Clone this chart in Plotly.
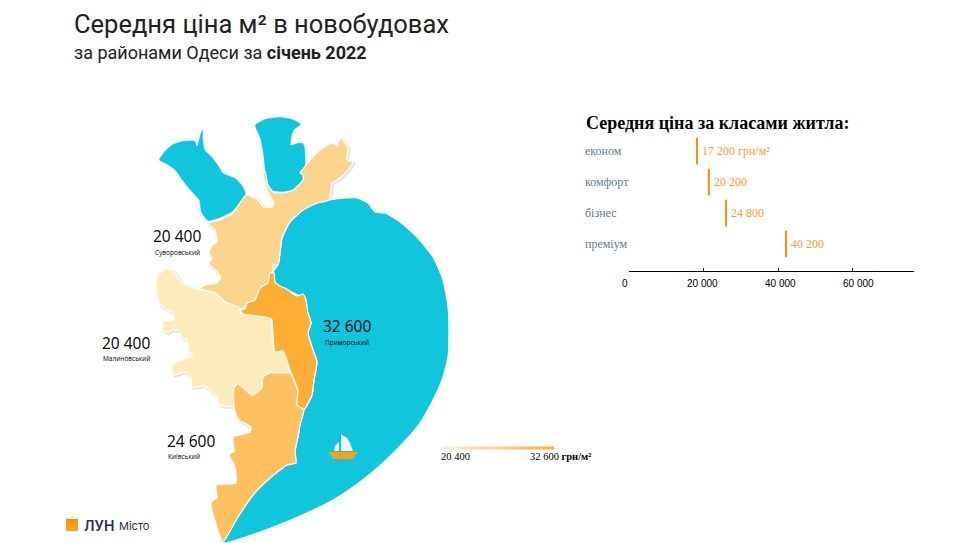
import plotly.graph_objects as go

sea_outline = [(329, 200), (347, 198), (357, 198), (368, 203), (375, 212), (385, 213), (400, 222), (417, 237),
               (433, 257), (443, 280), (448, 307), (449, 330), (448, 357), (442, 380), (433, 400), (420, 423),
               (403, 443), (383, 463), (360, 482), (333, 500), (300, 516), (260, 532), (223, 543), (238, 517),
               (253, 495), (270, 478), (287, 465), (296, 463),
               (295, 452), (298, 437), (300, 425), (304, 410), (306, 407), (312, 395), (314, 380), (317, 362),
               (313, 350), (308, 333), (311, 323), (307, 310), (305, 298), (298, 295), (288, 290), (275, 283),
               (273, 272), (278, 265), (280, 253), (282, 238), (290, 222), (303, 210), (317, 203), (329, 200)]
liman_west = [(159, 160), (165, 151), (173, 144), (183, 141), (195, 141), (197, 146), (200, 135), (203, 129),
              (203, 140), (205, 150), (212, 157), (218, 165), (223, 173), (235, 178), (242, 185), (246, 194),
              (240, 203), (232, 212), (220, 218), (208, 221), (201, 212), (199, 200), (190, 190), (182, 180),
              (175, 170), (168, 165), (159, 160)]
liman_east = [(255, 125), (265, 119), (280, 117), (292, 119), (301, 124), (294, 130), (292, 135), (291, 145),
              (297, 143), (303, 143), (305, 148), (305, 178), (300, 186), (292, 191), (282, 192), (273, 191),
              (268, 185), (265, 172), (263, 153), (260, 138), (255, 125)]
suvorovskyi = [(208, 223), (220, 220), (233, 213), (246, 195), (257, 199), (264, 207), (272, 207), (274, 203),
               (268, 192), (263, 173), (265, 172), (268, 185), (273, 192), (282, 193), (293, 190), (303, 180),
               (303, 175), (300, 173), (303, 169), (310, 160), (320, 150), (332, 143), (337, 146), (340, 138),
               (348, 147), (347, 160), (353, 162), (348, 170), (340, 178), (332, 183), (329, 200), (317, 203),
               (303, 210), (290, 222), (282, 238), (280, 253), (278, 265), (273, 264), (273, 272), (270, 273),
               (268, 283), (260, 288), (255, 300), (247, 303), (241, 310), (225, 302), (215, 293), (200, 289),
               (205, 285), (217, 283), (221, 277), (213, 268), (209, 264), (212, 258), (209, 253), (212, 245),
               (217, 242), (215, 230), (208, 223)]
malynivskyi = [(156, 283), (158, 275), (165, 269), (172, 270), (182, 283), (197, 289), (215, 293), (225, 302),
               (240, 308), (240, 313), (250, 315), (270, 318), (272, 337), (274, 350), (283, 351), (290, 373),
               (280, 373), (270, 373), (263, 377), (262, 388), (252, 395), (238, 384), (234, 388), (233, 406),
               (220, 405), (217, 397), (205, 386), (192, 387), (191, 378), (185, 372), (174, 375), (172, 367),
               (177, 362), (187, 358), (193, 354), (189, 353), (187, 340), (181, 337), (180, 331), (172, 330),
               (168, 333), (163, 330), (163, 321), (174, 320), (173, 313), (160, 305), (156, 283)]
prymorskyi = [(270, 273), (274, 273), (275, 282), (282, 287), (285, 288), (288, 290), (297, 296), (303, 294),
              (306, 300), (308, 313), (311, 323), (308, 333), (313, 350), (317, 362), (314, 380), (312, 395),
              (306, 407), (304, 409), (297, 405), (298, 390), (290, 370), (283, 351), (275, 352), (273, 335),
              (272, 320), (270, 318), (250, 315), (243, 314), (241, 310), (245, 309), (247, 303), (255, 300),
              (260, 288), (268, 283), (270, 273)]
kyivskyi = [(290, 373), (298, 392), (297, 405), (304, 409), (300, 425), (298, 437), (295, 452), (296, 463),
            (287, 465), (270, 478), (253, 495), (238, 517), (223, 542), (217, 527), (211, 502), (217, 498),
            (216, 485), (236, 483), (235, 467), (229, 454), (234, 452), (233, 437), (250, 432), (251, 427),
            (238, 419), (234, 407), (234, 388), (238, 384), (252, 395), (262, 388), (263, 377),
            (270, 373), (280, 373), (290, 373)]
boat_hull = [(329, 452), (358, 452), (353, 459), (333, 459), (329, 452)]
boat_sail_big = [(341, 434), (347, 438), (350, 443), (353, 451), (341, 451), (341, 434)]
boat_sail_small = [(339, 442), (335, 446), (334, 451), (339, 451), (339, 442)]
logo_square = [(66, 519), (78, 519), (78, 531), (66, 531), (66, 519)]

district_names = ["Суворовський", "Малиновський", "Приморський", "Київський"]
district_prices = ["20 400", "20 400", "32 600", "24 600"]
legend_range = [20400, 32600]

class_names = ["економ", "комфорт", "бізнес", "преміум"]
class_labels = ["17 200 грн/м²", "20 200", "24 800", "40 200"]
class_marks = [18250, 21450, 26050, 42150]  # where the marks sit on the axis
axis_ticks = [0, 20000, 40000, 60000]
axis_tick_labels = ["0", "20 000", "40 000", "60 000"]

SERIF = "Liberation Serif"
MAP_FONT = "Open Sans"


def xs(points):
    return [p[0] for p in points]


def ys(points):
    return [p[1] for p in points]


def area(points, color, line_color="white", line_width=1.2, smoothing=0.5):
    return go.Scatter(x=xs(points), y=ys(points), mode="lines", fill="toself", fillcolor=color,
                      line=dict(color=line_color, width=line_width, shape="spline", smoothing=smoothing),
                      hoverinfo="skip")


def outline(points):
    return go.Scatter(x=[p + 1 for p in xs(points)], y=[p + 1 for p in ys(points)], mode="lines",
                      line=dict(color="#e4e4e4", width=3, shape="spline", smoothing=0.5), hoverinfo="skip")


fig = go.Figure()

for land in [suvorovskyi, malynivskyi, kyivskyi, prymorskyi]:
    fig.add_trace(outline(land))

fig.add_trace(area(sea_outline, "#10c6dd"))
fig.add_trace(area(liman_west, "#10c6dd", line_width=0.5))
fig.add_trace(area(liman_east, "#10c6dd", line_width=0.5))
fig.add_trace(area(suvorovskyi, "#fdd48b"))
fig.add_trace(area(malynivskyi, "#feebbb"))
fig.add_trace(area(kyivskyi, "#ffc160"))
fig.add_trace(area(prymorskyi, "#ffae33"))

# boat
for part, color in [(boat_sail_big, "#f2f2f2"), (boat_sail_small, "#f2f2f2"), (boat_hull, "#ff9d14")]:
    fig.add_trace(go.Scatter(x=xs(part), y=ys(part), mode="lines", fill="toself", fillcolor=color,
                             line=dict(width=0), hoverinfo="skip"))

# logo square
fig.add_trace(go.Scatter(x=xs(logo_square), y=ys(logo_square), mode="lines", fill="toself", line=dict(width=0),
                         fillgradient=dict(type="vertical", colorscale=[[0, "#ffa726"], [1, "#ff9100"]]),
                         hoverinfo="skip"))

# price legend, only the colorbar of this trace shows
fig.add_trace(go.Scatter(x=[None, None], y=[None, None], mode="markers",
                         marker=dict(color=legend_range, cmin=legend_range[0], cmax=legend_range[1],
                                     colorscale=[[0, "#f8f1e6"], [1, "#ffae33"]], showscale=True,
                                     colorbar=dict(orientation="h", x=497.5 / 962, xanchor="center",
                                                   y=1 - 448.5 / 543, yanchor="middle", thickness=3,
                                                   thicknessmode="pixels", len=113, lenmode="pixels",
                                                   outlinewidth=0, borderwidth=0, xpad=0, ypad=0, ticks="",
                                                   showticklabels=False)),
                         hoverinfo="skip"))

# class prices
fig.add_trace(go.Scatter(x=class_marks, y=class_names, xaxis="x2", yaxis="y2", mode="markers",
                         marker=dict(symbol="line-ns", size=19, line=dict(color="#ff8c0a", width=2)),
                         hoverinfo="skip"))


def note(x, y, text, size, color="black", family=MAP_FONT, anchor="center", weight=None):
    return dict(x=x, y=y, xref="x", yref="y", text=text, showarrow=False, xanchor=anchor, yanchor="middle",
                font=dict(family=family, size=size, color=color, weight=weight))


annotations = [
    note(72, 24, "Середня ціна м² в новобудовах", 25.5, "#212121", "Roboto", "left"),
    note(72, 52, "за районами Одеси за <b>січень 2022</b>", 18, "#212121", "Roboto", "left"),
    note(584, 123, "<b>Середня ціна за класами житла:</b>", 18, "black", SERIF, "left"),
    note(439, 456, "20 400", 10.5, "black", SERIF, "left"),
    note(593, 456, "32 600 <b>грн/м²</b>", 10.5, "black", SERIF, "right"),
    note(82, 525, "ЛУН", 14, "#2a2e47", "Inter", "left", 600),
    note(117, 525.5, "Місто", 11, "#2a2e47", "Inter", "left"),
]

price_spots = [(176.5, 236), (126, 343), (347, 326), (191, 441)]
name_spots = [(177, 252), (127, 358), (347, 342), (184, 456.5)]
for name, price, p_at, n_at in zip(district_names, district_prices, price_spots, name_spots):
    annotations.append(note(p_at[0], p_at[1], price, 15.5))
    annotations.append(note(n_at[0], n_at[1], name, 6.5))

for name, label, mark in zip(class_names, class_labels, class_marks):
    annotations.append(dict(x=583 / 962, y=name, xref="paper", yref="y2", text=name, showarrow=False,
                            xanchor="left", font=dict(family=SERIF, size=12, color="#5f7d8c")))
    annotations.append(dict(x=mark, y=name, xref="x2", yref="y2", text=label, showarrow=False, xanchor="left",
                            xshift=3, font=dict(family=SERIF, size=12, color="#ff9a30")))

tick_shifts = [-4, -1, 2, 6]
for tick, label, shift in zip(axis_ticks, axis_tick_labels, tick_shifts):
    annotations.append(dict(x=tick, y=283, xref="x2", yref="y", text=label, showarrow=False, xshift=shift,
                            font=dict(family="Liberation Sans", size=10, color="black")))

fig.update_layout(
    width=962, height=543,
    margin=dict(l=0, r=0, t=0, b=0),
    paper_bgcolor="white", plot_bgcolor="rgba(0,0,0,0)",
    showlegend=False,
    annotations=annotations,
    xaxis=dict(range=[0, 962], domain=[0, 1], visible=False, fixedrange=True),
    yaxis=dict(range=[543, 0], domain=[0, 1], visible=False, fixedrange=True),
    xaxis2=dict(range=[0, 76500], domain=[629 / 962, 914 / 962], anchor="y2", tickvals=axis_ticks,
                showticklabels=False, ticks="inside", ticklen=3, tickcolor="black", tickwidth=1, showgrid=False,
                zeroline=False, showline=True, linecolor="black", linewidth=1.3),
    yaxis2=dict(type="category", categoryorder="array", categoryarray=class_names, range=[3.87, -0.516],
                domain=[272 / 543, 408 / 543], anchor="x2", visible=False),
)

fig.write_html("out.html", config=dict(displayModeBar=False),
               post_script="document.body.style.margin='0';")
